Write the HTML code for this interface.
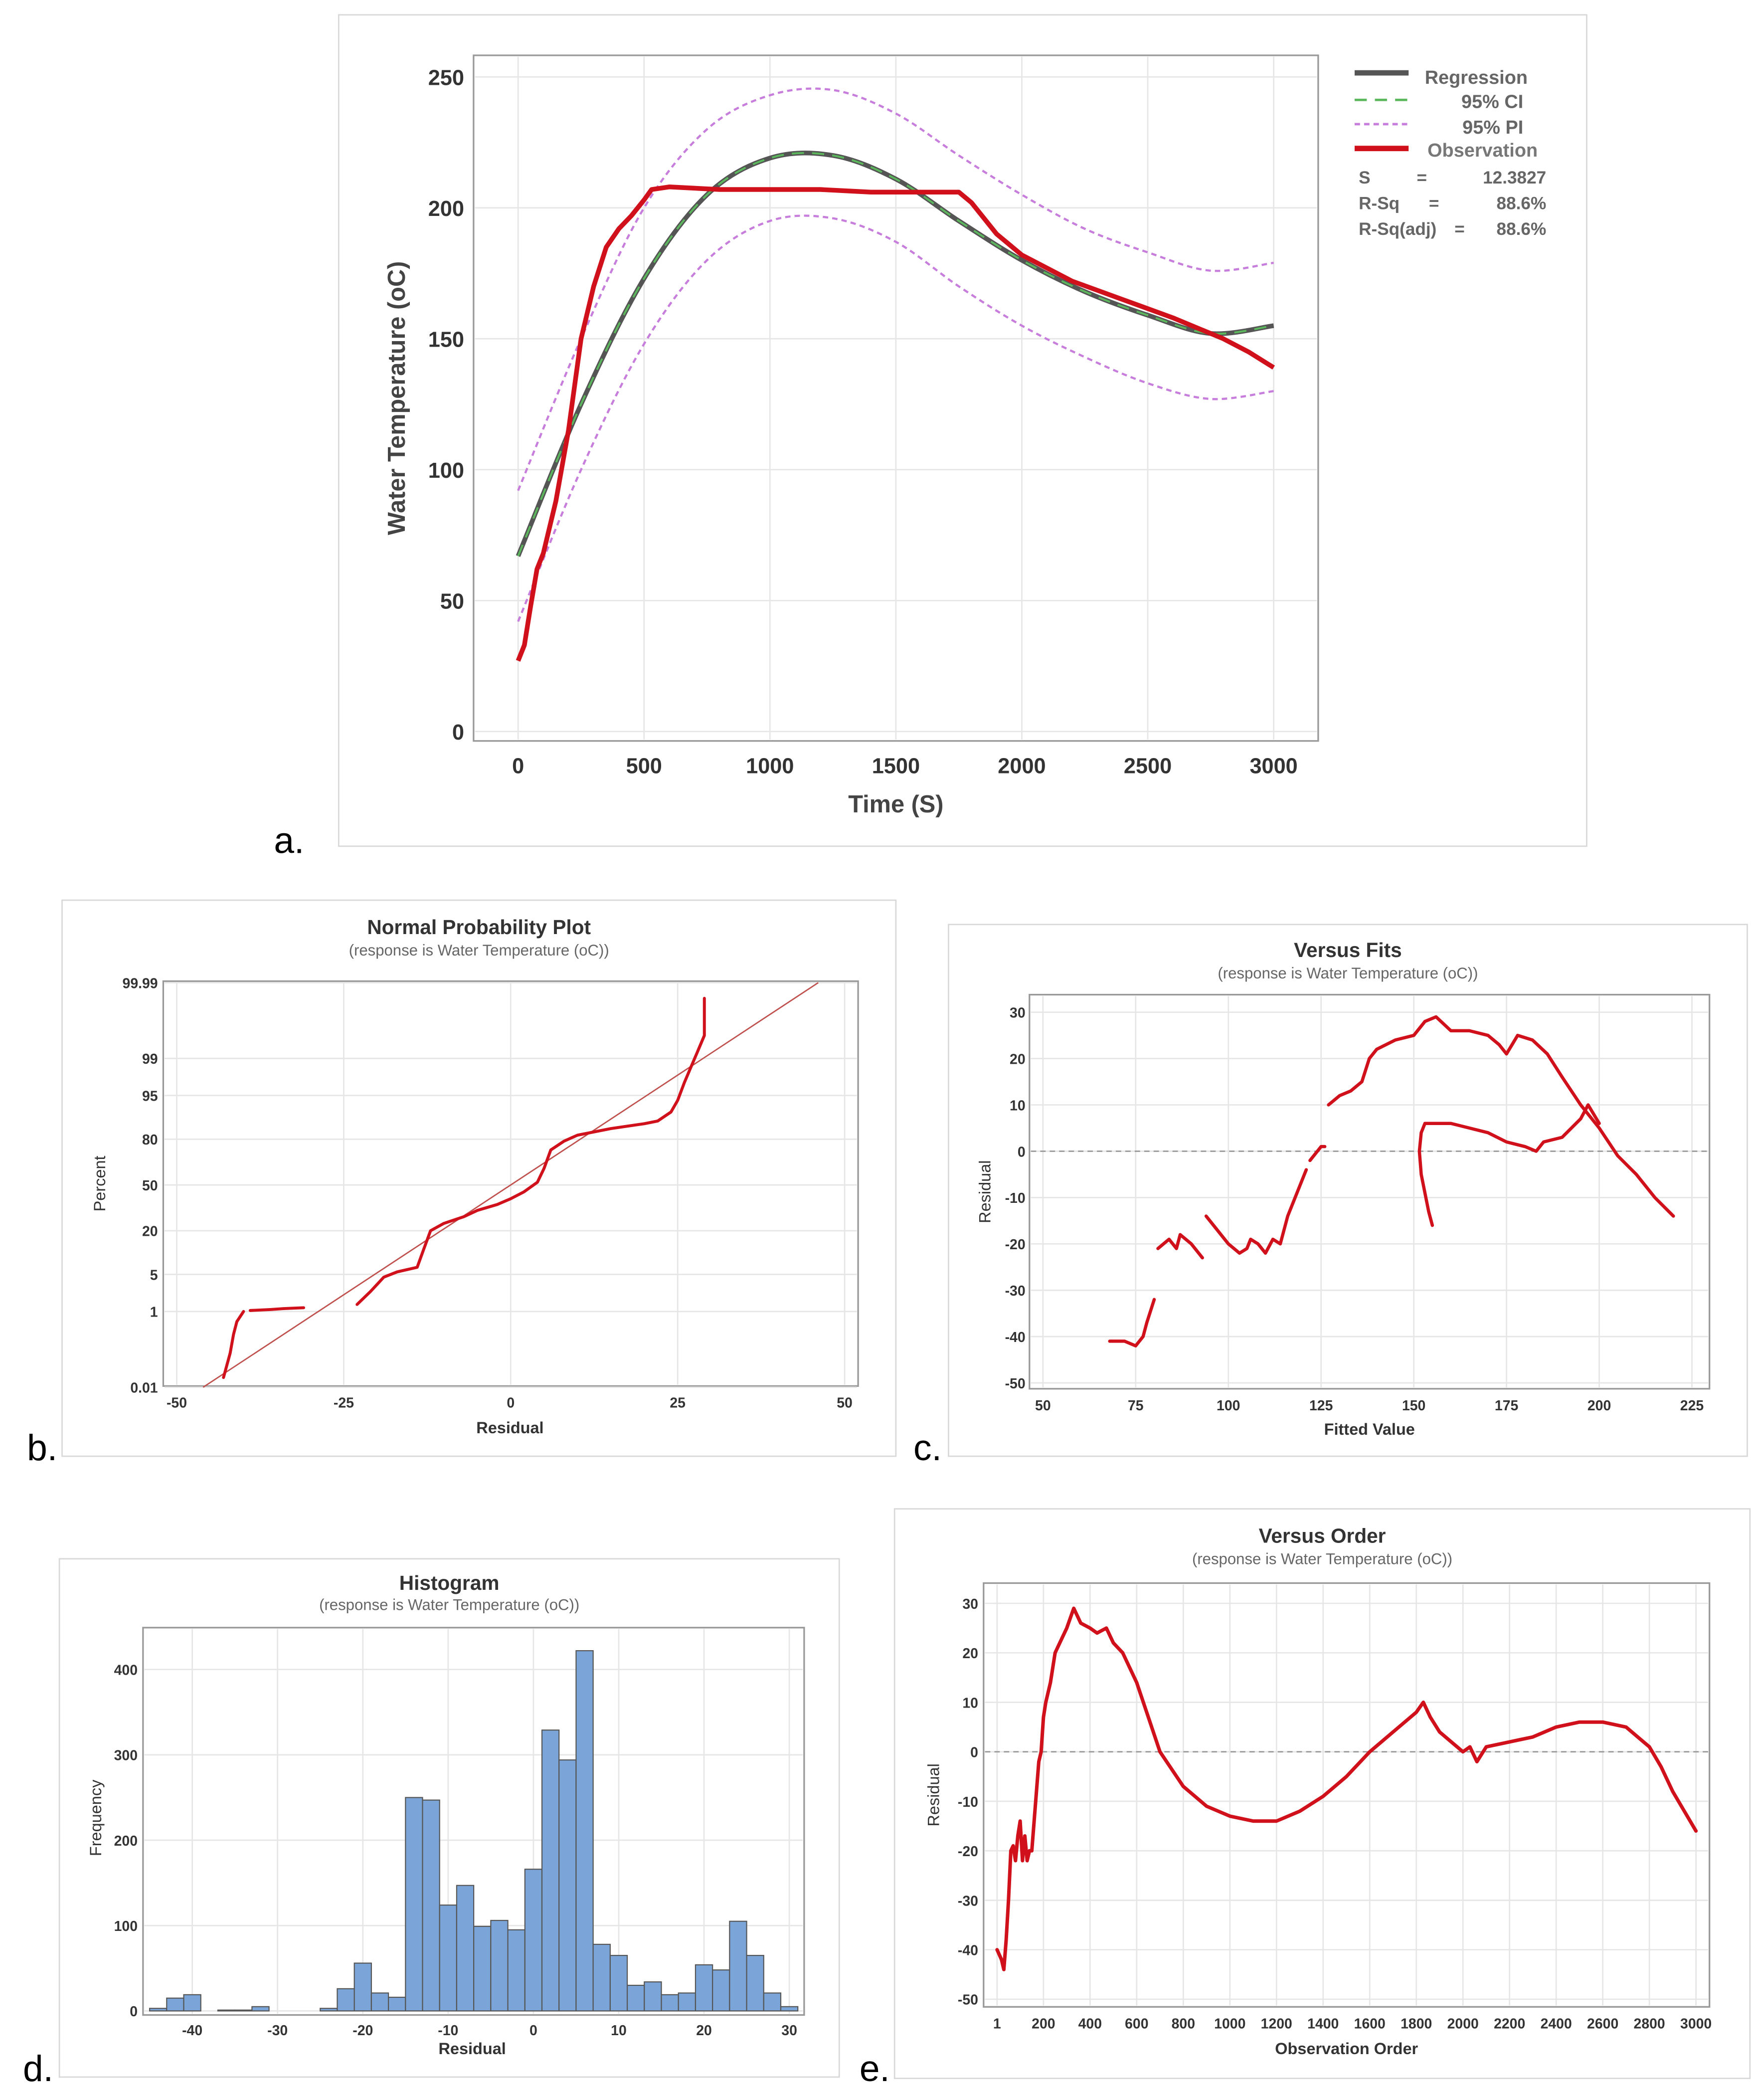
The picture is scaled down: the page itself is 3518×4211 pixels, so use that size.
<!DOCTYPE html>
<html><head><meta charset="utf-8"><title>Regression charts</title>
<style>
html,body{margin:0;padding:0;background:#fff;}
svg{display:block;font-family:"Liberation Sans",sans-serif;}
</style></head>
<body>
<svg id="root" width="3518" height="4211" viewBox="0 0 1300 1556" preserveAspectRatio="none" xmlns="http://www.w3.org/2000/svg">
<rect x="0" y="0" width="1300" height="1556" fill="#fff"/>
<rect x="251" y="11" width="925" height="616" fill="none" stroke="#d8d8d8" stroke-width="1"/>
<rect x="46" y="667" width="618" height="412" fill="none" stroke="#d8d8d8" stroke-width="1"/>
<rect x="703" y="685" width="592" height="394" fill="none" stroke="#d8d8d8" stroke-width="1"/>
<rect x="44" y="1155" width="578" height="384" fill="none" stroke="#d8d8d8" stroke-width="1"/>
<rect x="663" y="1118" width="634" height="422" fill="none" stroke="#d8d8d8" stroke-width="1"/>
<text x="203" y="632" font-size="27" fill="#000">a.</text>
<text x="20" y="1082" font-size="27" fill="#000">b.</text>
<text x="677" y="1082" font-size="27" fill="#000">c.</text>
<text x="17" y="1542" font-size="27" fill="#000">d.</text>
<text x="637" y="1542" font-size="27" fill="#000">e.</text>
<text x="355" y="692" font-size="15" font-weight="bold" fill="#333" text-anchor="middle">Normal Probability Plot</text>
<text x="355" y="708" font-size="11.5" fill="#666" text-anchor="middle">(response is Water Temperature (oC))</text>
<text x="999" y="709" font-size="15" font-weight="bold" fill="#333" text-anchor="middle">Versus Fits</text>
<text x="999" y="725" font-size="11.5" fill="#666" text-anchor="middle">(response is Water Temperature (oC))</text>
<text x="333" y="1178" font-size="15" font-weight="bold" fill="#333" text-anchor="middle">Histogram</text>
<text x="333" y="1193" font-size="11.5" fill="#666" text-anchor="middle">(response is Water Temperature (oC))</text>
<text x="980" y="1143" font-size="15" font-weight="bold" fill="#333" text-anchor="middle">Versus Order</text>
<text x="980" y="1159" font-size="11.5" fill="#666" text-anchor="middle">(response is Water Temperature (oC))</text>
<text x="664" y="602" font-size="18" font-weight="bold" fill="#444" text-anchor="middle">Time (S)</text>
<text transform="translate(300,295) rotate(-90)" font-size="18" font-weight="bold" fill="#444" text-anchor="middle">Water Temperature (oC)</text>
<text x="378" y="1062" font-size="12" font-weight="bold" fill="#333" text-anchor="middle">Residual</text>
<text transform="translate(78,877) rotate(-90)" font-size="12" fill="#333" text-anchor="middle">Percent</text>
<text x="1015" y="1063" font-size="12" font-weight="bold" fill="#333" text-anchor="middle">Fitted Value</text>
<text transform="translate(734,883) rotate(-90)" font-size="12" fill="#333" text-anchor="middle">Residual</text>
<text x="350" y="1522" font-size="12" font-weight="bold" fill="#333" text-anchor="middle">Residual</text>
<text transform="translate(75,1347) rotate(-90)" font-size="12" fill="#333" text-anchor="middle">Frequency</text>
<text x="998" y="1522" font-size="12" font-weight="bold" fill="#333" text-anchor="middle">Observation Order</text>
<text transform="translate(696,1330) rotate(-90)" font-size="12" fill="#333" text-anchor="middle">Residual</text>
<g>
<line x1="1004" y1="54" x2="1044" y2="54" stroke="#555" stroke-width="4"/>
<text x="1056" y="62" font-size="14" font-weight="bold" fill="#666">Regression</text>
<line x1="1004" y1="74" x2="1044" y2="74" stroke="#5cb85c" stroke-width="1.8" stroke-dasharray="9,6"/>
<text x="1129" y="80" font-size="14" font-weight="bold" fill="#666" text-anchor="end">95% CI</text>
<line x1="1004" y1="92" x2="1044" y2="92" stroke="#c77ddb" stroke-width="1.8" stroke-dasharray="4,3"/>
<text x="1129" y="99" font-size="14" font-weight="bold" fill="#666" text-anchor="end">95% PI</text>
<line x1="1004" y1="110" x2="1044" y2="110" stroke="#d0101a" stroke-width="4"/>
<text x="1058" y="116" font-size="14" font-weight="bold" fill="#777">Observation</text>
<text font-size="13" font-weight="bold" fill="#666" y="136"><tspan x="1007">S</tspan><tspan x="1050">=</tspan><tspan x="1146" text-anchor="end">12.3827</tspan></text>
<text font-size="13" font-weight="bold" fill="#666" y="155"><tspan x="1007">R-Sq</tspan><tspan x="1059">=</tspan><tspan x="1146" text-anchor="end">88.6%</tspan></text>
<text font-size="13" font-weight="bold" fill="#666" y="174"><tspan x="1007">R-Sq(adj)</tspan><tspan x="1078">=</tspan><tspan x="1146" text-anchor="end">88.6%</tspan></text>
</g>
</svg>
<script>
// ---------- Panel a data ----------
var aTime = [0,250,500,750,1000,1250,1500,1750,2000,2250,2500,2750,3000];
var aRegression = [67,125,173,205,219,220,211,195,180,168,159,152,155];
var aPIUpper = [92,150,200,230,243,245,236,220,205,192,183,176,179];
var aPILower = [42,100,148,180,195,196,187,170,155,143,133,127,130];
var aObsTime = [0,25,50,75,100,150,200,250,300,350,400,450,500,530,600,800,1000,1200,1400,1600,1750,1800,1900,2000,2200,2400,2600,2800,2900,3000];
var aObsTemp = [27,33,48,62,68,88,115,150,170,185,192,197,203,207,208,207,207,207,206,206,206,202,190,182,172,165,158,150,145,139];
var aXTicks = [0,500,1000,1500,2000,2500,3000];
var aYTicks = [0,50,100,150,200,250];
// ---------- Panel b data ----------
var bResidual = [-43,-42,-41.5,-41,-40,-39,-36,-34,-31,-23,-21,-19,-17,-14,-13,-12,-10,-7,-5,-2,0,2,4,5,6,8,10,15,20,22,24,25,26,27,28,29,29];
var bPercent = [0.02,0.1,0.3,0.6,1,1.05,1.1,1.15,1.2,1.4,2.5,4.5,5.5,6.5,12,20,24,28,32,36,40,45,52,62,74,79,82,85,87,88,91,94,97,98.5,99.3,99.7,99.97];
var bSegmentBreaks = [5,9];
var bXTicks = [-50,-25,0,25,50];
var bYTicks = [0.01,1,5,20,50,80,95,99,99.99];
var bYTickLabels = ["0.01","1","5","20","50","80","95","99","99.99"];
var bFitS = 12.3827;
// ---------- Panel c data ----------
var cFitSegments = [
 [68,72,75,77,78,80],
 [81,84,86,87,90,93],
 [94,100,103,105,106,108,110,112,114,116,118,120,121],
 [122,124,125,126],
 [127,130,133,136,138,140,145,150,153,156,160,165,170,173,175,178,182,186,190,195,200,205,210,215,220],
 [155,154,152,151.5,152,153,155,160,165,170,175,180,183,185,190,195,197,200]
];
var cResSegments = [
 [-41,-41,-42,-40,-37,-32],
 [-21,-19,-21,-18,-20,-23],
 [-14,-20,-22,-21,-19,-20,-22,-19,-20,-14,-10,-6,-4],
 [-2,0,1,1],
 [10,12,13,15,20,22,24,25,28,29,26,26,25,23,21,25,24,21,16,10,5,-1,-5,-10,-14],
 [-16,-13,-5,0,4,6,6,6,5,4,2,1,0,2,3,7,10,6]
];
var cXTicks = [50,75,100,125,150,175,200,225];
var cYTicks = [-50,-40,-30,-20,-10,0,10,20,30];
// ---------- Panel d data ----------
var dBinStart = -45;
var dBinWidth = 2;
var dCounts = [3,15,19,0,1,1,5,0,0,0,3,26,56,21,16,250,247,124,147,99,106,95,166,329,294,422,78,65,30,34,19,21,54,48,105,65,21,5];
var dXTicks = [-40,-30,-20,-10,0,10,20,30];
var dYTicks = [0,100,200,300,400];
// ---------- Panel e data ----------
var eOrder = [1,20,30,40,50,60,70,80,90,100,110,120,130,140,150,160,170,180,190,200,210,230,250,280,300,330,360,400,430,470,500,540,600,700,800,900,1000,1100,1200,1300,1400,1500,1600,1700,1800,1830,1860,1900,1950,2000,2030,2060,2100,2200,2300,2400,2500,2600,2700,2800,2850,2900,2950,3000];
var eResidual = [-40,-42,-44,-38,-30,-20,-19,-22,-17,-14,-22,-17,-22,-20,-20,-14,-8,-2,0,7,10,14,20,23,25,29,26,25,24,25,22,20,14,0,-7,-11,-13,-14,-14,-12,-9,-5,0,4,8,10,7,4,2,0,1,-2,1,2,3,5,6,6,5,1,-3,-8,-12,-16];
var eXTicks = [1,200,400,600,800,1000,1200,1400,1600,1800,2000,2200,2400,2600,2800,3000];
var eYTicks = [-50,-40,-30,-20,-10,0,10,20,30];

var NS = "http://www.w3.org/2000/svg";
var root = document.getElementById('root');
function mk(tag, attrs, parent){
  var e = document.createElementNS(NS, tag);
  for (var k in attrs) e.setAttribute(k, attrs[k]);
  (parent || root).appendChild(e);
  return e;
}
function lin(d0,d1,r0,r1){ return function(v){ return r0 + (v-d0)*(r1-r0)/(d1-d0); }; }
function smooth(pts){
  var d = "M"+pts[0][0]+","+pts[0][1];
  for (var i=0;i<pts.length-1;i++){
    var p0=pts[Math.max(0,i-1)],p1=pts[i],p2=pts[i+1],p3=pts[Math.min(pts.length-1,i+2)];
    var c1x=p1[0]+(p2[0]-p0[0])/6,c1y=p1[1]+(p2[1]-p0[1])/6;
    var c2x=p2[0]-(p3[0]-p1[0])/6,c2y=p2[1]-(p3[1]-p1[1])/6;
    d+=" C"+c1x+","+c1y+" "+c2x+","+c2y+" "+p2[0]+","+p2[1];
  }
  return d;
}
function plotBox(x,y,w,h,name){
  var r = mk('rect',{x:x,y:y,width:w,height:h,fill:'#fff',stroke:'#999','stroke-width':1.2});
  
  
}
function grid(x1,y1,x2,y2){
  var l = mk('line',{x1:x1,y1:y1,x2:x2,y2:y2,stroke:'#e6e6e6','stroke-width':1});
  
  
}
function label(x,y,txt,size,anchor,bold){
  var t = mk('text',{x:x,y:y,'font-size':size,'text-anchor':anchor,fill:'#333','font-weight':bold?'bold':'normal'});
  t.textContent = txt;
  
  
}

// ===== Panel a =====
(function(){
  var X = lin(0,3000,384,944), Y = lin(0,250,542,57);
  plotBox(351,41,626,508,'plot-area-a');
  aXTicks.forEach(function(v){ grid(X(v),42,X(v),548); label(X(v),573,String(v),16,'middle',true); });
  aYTicks.forEach(function(v){ grid(352,Y(v),976,Y(v)); label(344,Y(v)+6,String(v),16,'end',true); });
  function pts(xs,ys){ return xs.map(function(t,i){ return [X(t),Y(ys[i])]; }); }
  var pu = mk('path',{d:smooth(pts(aTime,aPIUpper)),fill:'none',stroke:'#c77ddb','stroke-width':1.6,'stroke-dasharray':'4,3'});
  
  
  var pl = mk('path',{d:smooth(pts(aTime,aPILower)),fill:'none',stroke:'#c77ddb','stroke-width':1.6,'stroke-dasharray':'4,3'});
  
  
  var rg = mk('path',{d:smooth(pts(aTime,aRegression)),fill:'none',stroke:'#555','stroke-width':3.5});
  
  
  var ci = mk('path',{d:smooth(pts(aTime,aRegression)),fill:'none',stroke:'#5cb85c','stroke-width':1.4,'stroke-dasharray':'9,6'});
  
  
  var ob = mk('polyline',{points:pts(aObsTime,aObsTemp).map(function(p){return p.join(',');}).join(' '),fill:'none',stroke:'#d0101a','stroke-width':3.5,'stroke-linejoin':'round'});
  
  
})();

// ===== Panel b =====
function invNorm(p){
  var a=[-3.969683028665376e+01,2.209460984245205e+02,-2.759285104469687e+02,1.383577518672690e+02,-3.066479806614716e+01,2.506628277459239e+00];
  var b=[-5.447609879822406e+01,1.615858368580409e+02,-1.556989798598866e+02,6.680131188771972e+01,-1.328068155288572e+01];
  var c=[-7.784894002430293e-03,-3.223964580411365e-01,-2.400758277161838e+00,-2.549732539343734e+00,4.374664141464968e+00,2.938163982698783e+00];
  var d=[7.784695709041462e-03,3.224671290700398e-01,2.445134137142996e+00,3.754408661907416e+00];
  var q,r;
  if (p<0.02425){ q=Math.sqrt(-2*Math.log(p)); return (((((c[0]*q+c[1])*q+c[2])*q+c[3])*q+c[4])*q+c[5])/((((d[0]*q+d[1])*q+d[2])*q+d[3])*q+1); }
  if (p>1-0.02425){ q=Math.sqrt(-2*Math.log(1-p)); return -(((((c[0]*q+c[1])*q+c[2])*q+c[3])*q+c[4])*q+c[5])/((((d[0]*q+d[1])*q+d[2])*q+d[3])*q+1); }
  q=p-0.5; r=q*q;
  return (((((a[0]*r+a[1])*r+a[2])*r+a[3])*r+a[4])*r+a[5])*q/(((((b[0]*r+b[1])*r+b[2])*r+b[3])*r+b[4])*r+1);
}
(function(){
  var X = lin(-50,50,131,626);
  var Y = function(pct){ return 878 - 40.3*invNorm(pct/100); };
  plotBox(121,727,515,300,'plot-area-b');
  bXTicks.forEach(function(v){ grid(X(v),728,X(v),1026); label(X(v),1043,String(v),10.5,'middle',true); });
  bYTicks.forEach(function(v,i){ grid(122,Y(v),635,Y(v)); label(117,Y(v)+4,bYTickLabels[i],10.5,'end',true); });
  var z0 = invNorm(0.0001), z1 = invNorm(0.9999);
  var fl = mk('line',{x1:X(bFitS*z0),y1:878-40.3*z0,x2:X(bFitS*z1),y2:878-40.3*z1,stroke:'#c0504d','stroke-width':1});
  
  
  var starts=[0].concat(bSegmentBreaks), ends=bSegmentBreaks.concat([bResidual.length]);
  starts.forEach(function(s,k){
    var p=[];
    for (var i=s;i<ends[k];i++) p.push(X(bResidual[i])+','+Y(bPercent[i]));
    var pl = mk('polyline',{points:p.join(' '),fill:'none',stroke:'#d0101a','stroke-width':2.2,'stroke-linecap':'round','stroke-linejoin':'round'});
    
    
  });
})();

// ===== Panel c =====
(function(){
  var X = lin(50,225,773,1254), Y = lin(0,30,853,750);
  plotBox(763,737,504,292,'plot-area-c');
  cXTicks.forEach(function(v){ grid(X(v),738,X(v),1028); label(X(v),1045,String(v),10.5,'middle',true); });
  cYTicks.forEach(function(v){ grid(764,Y(v),1266,Y(v)); label(760,Y(v)+4,String(v),10.5,'end',true); });
  var z = mk('line',{x1:764,y1:Y(0),x2:1266,y2:Y(0),stroke:'#999','stroke-width':1,'stroke-dasharray':'4,3'});
  
  
  cFitSegments.forEach(function(seg,k){
    var p = seg.map(function(f,i){ return X(f)+','+Y(cResSegments[k][i]); });
    var pl = mk('polyline',{points:p.join(' '),fill:'none',stroke:'#d0101a','stroke-width':2.4,'stroke-linecap':'round','stroke-linejoin':'round'});
    
    
  });
})();

// ===== Panel d =====
(function(){
  var X = lin(-40,30,142.5,585), Y = lin(0,400,1490,1237);
  plotBox(106,1206,490,287,'plot-area-d');
  dXTicks.forEach(function(v){ grid(X(v),1207,X(v),1492); label(X(v),1508,String(v),10.5,'middle',true); });
  dYTicks.forEach(function(v){ grid(107,Y(v),595,Y(v)); label(102,Y(v)+4,String(v),10.5,'end',true); });
  dCounts.forEach(function(c,i){
    var x0 = X(dBinStart + i*dBinWidth), x1 = X(dBinStart + (i+1)*dBinWidth);
    var r = mk('rect',{x:x0,y:Y(c),width:x1-x0,height:Y(0)-Y(c),fill:'#7ba5d8',stroke:'#555','stroke-width':0.8});
    
    
  });
})();

// ===== Panel e =====
(function(){
  var X = lin(1,3000,739,1257), Y = lin(0,30,1298,1188);
  plotBox(729,1173,538,314,'plot-area-e');
  eXTicks.forEach(function(v){ grid(X(v),1174,X(v),1486); label(X(v),1503,String(v),10.5,'middle',true); });
  eYTicks.forEach(function(v){ grid(730,Y(v),1266,Y(v)); label(725,Y(v)+4,String(v),10.5,'end',true); });
  var z = mk('line',{x1:730,y1:Y(0),x2:1266,y2:Y(0),stroke:'#999','stroke-width':1,'stroke-dasharray':'4,3'});
  
  
  var p = eOrder.map(function(o,i){ return X(o)+','+Y(eResidual[i]); });
  var pl = mk('polyline',{points:p.join(' '),fill:'none',stroke:'#d0101a','stroke-width':2.6,'stroke-linecap':'round','stroke-linejoin':'round'});
  
  
})();
</script>
</body></html>
